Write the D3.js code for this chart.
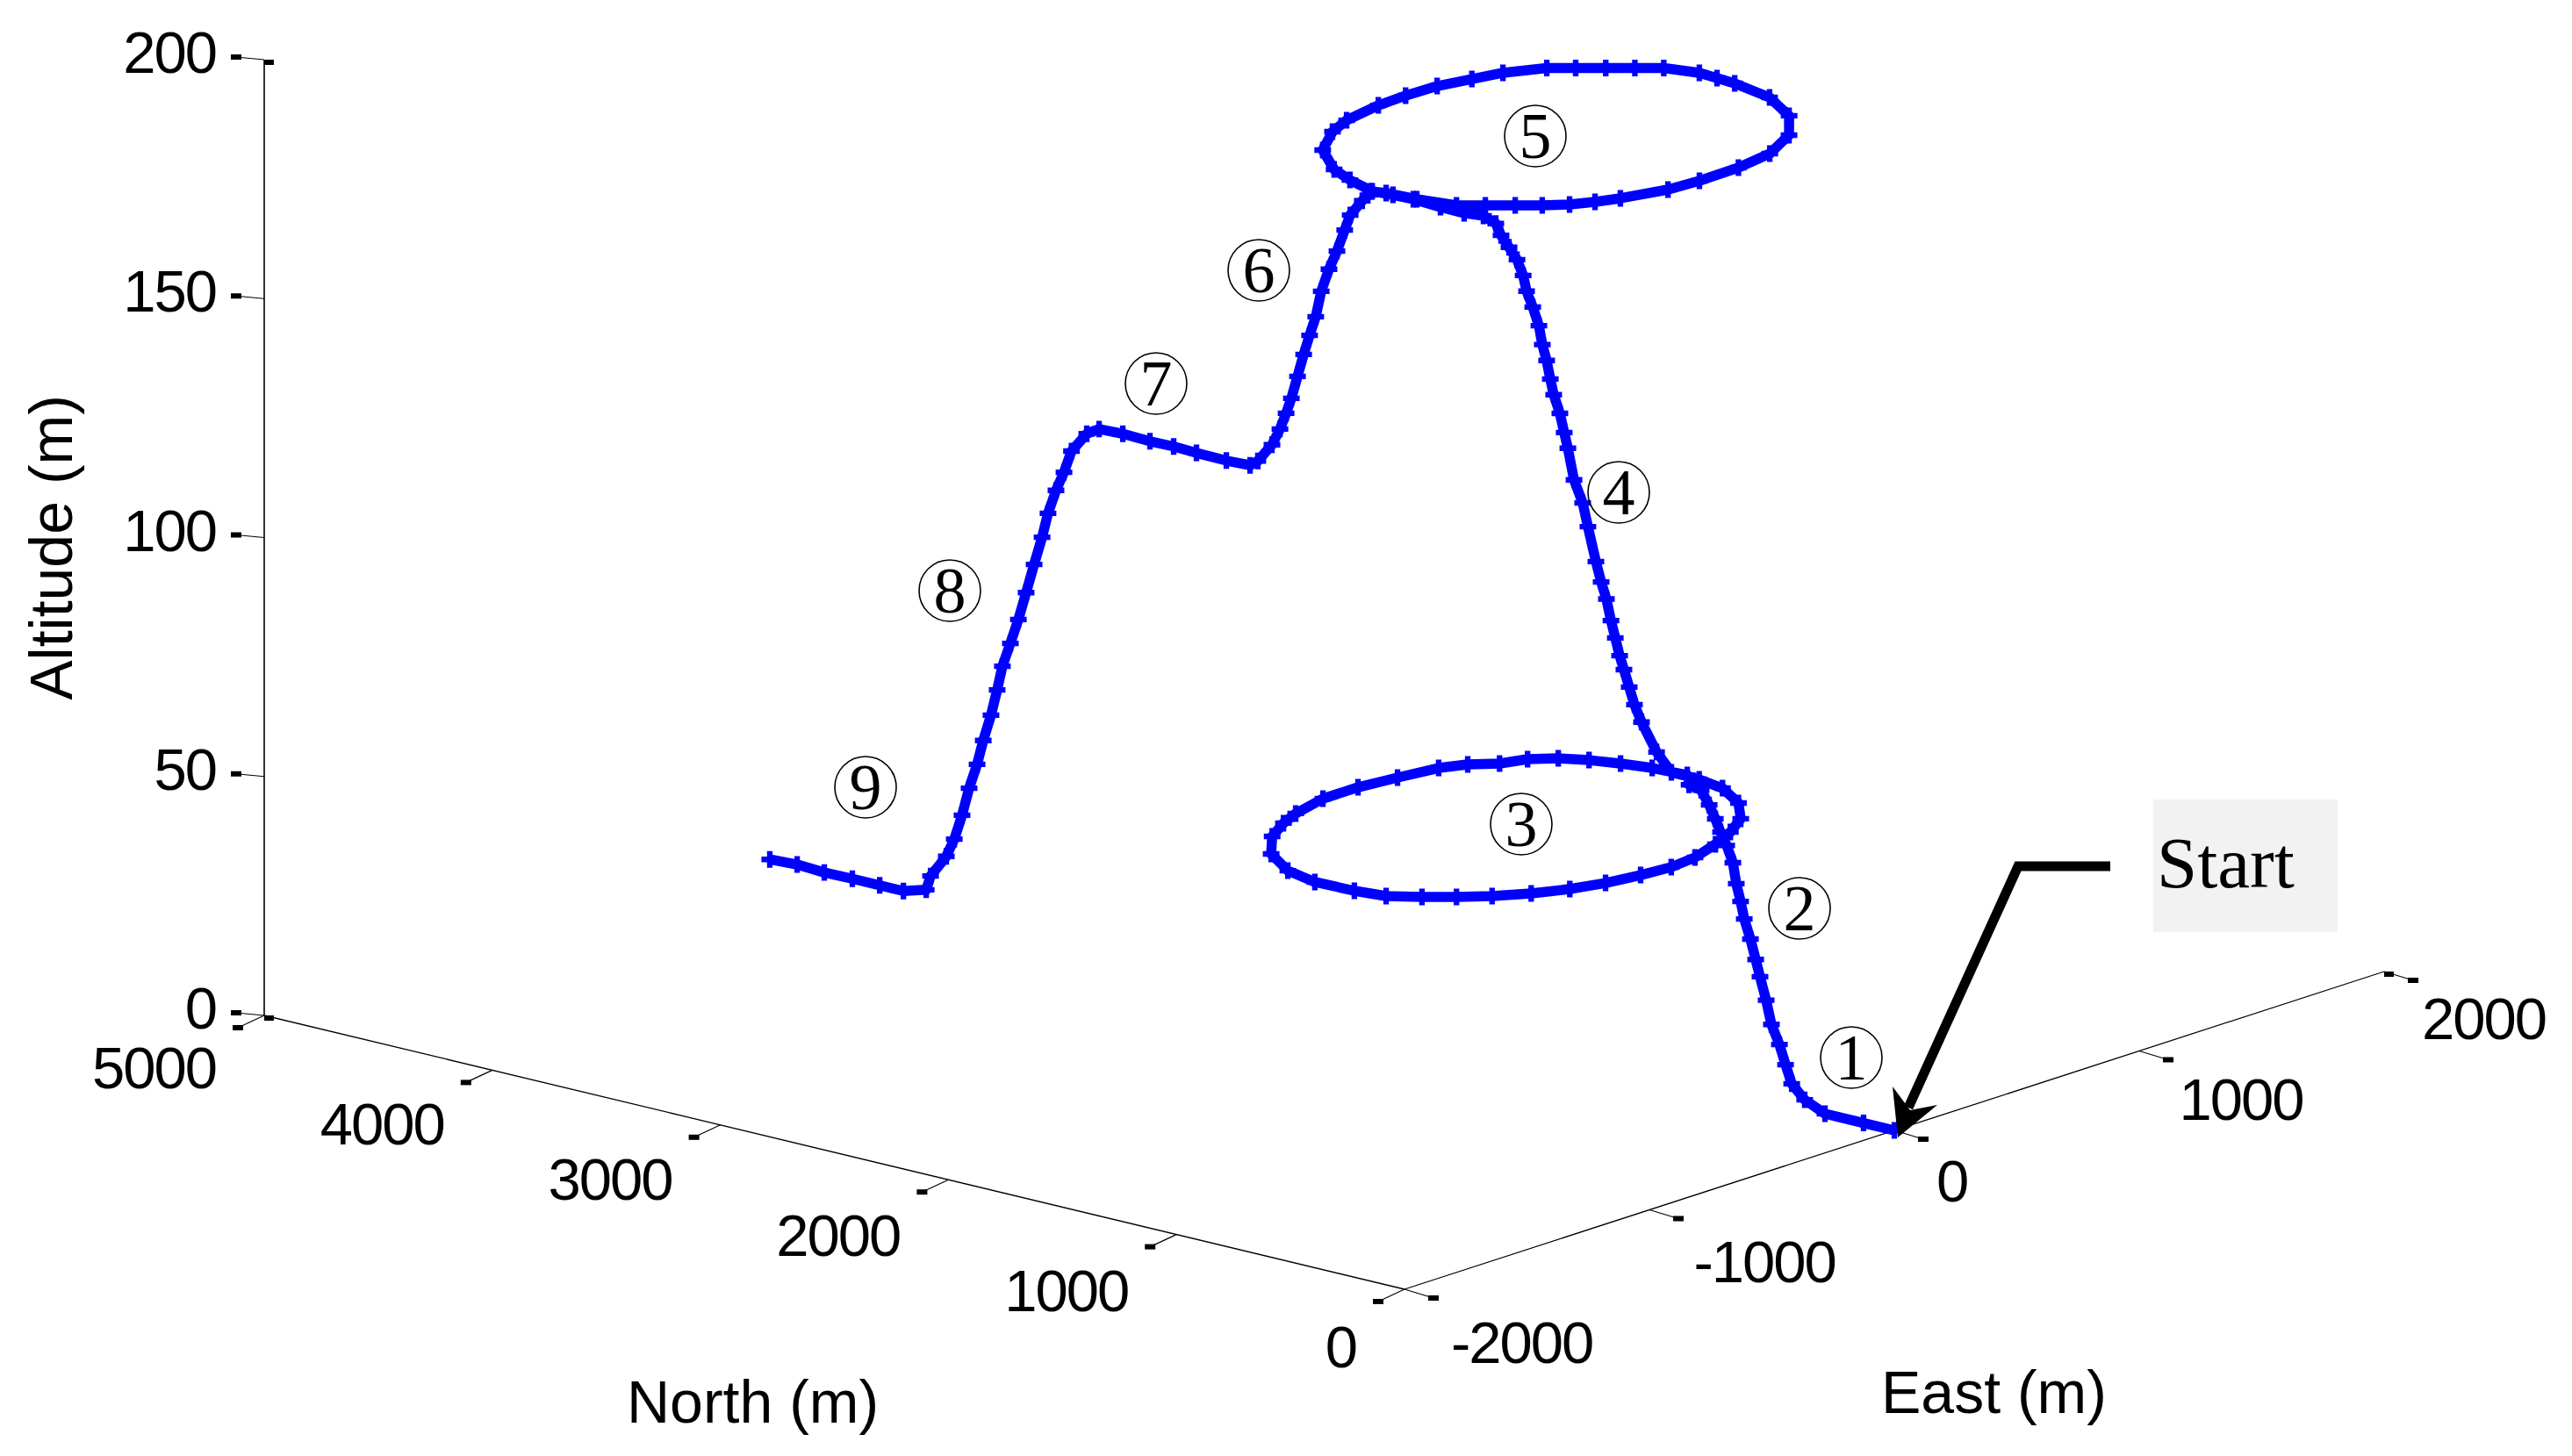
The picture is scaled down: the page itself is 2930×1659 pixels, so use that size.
<!DOCTYPE html>
<html>
<head>
<meta charset="utf-8">
<title>Flight path</title>
<script src="https://cdn.jsdelivr.net/npm/d3@7"></script>
<style>
  html, body { margin: 0; padding: 0; background: #fff; }
  svg { display: block; }
</style>
</head>
<body>
<div id="chart"></div>
<script>
// tick values for the three axes
const eastTicks = [-2000, -1000, 0, 1000, 2000];
const northTicks = [0, 1000, 2000, 3000, 4000, 5000];
const altitudeTicks = [0, 50, 100, 150, 200];

const axisLabels = ['East (m)', 'North (m)', 'Altitude (m)'];
const stageLabels = ['1', '2', '3', '4', '5', '6', '7', '8', '9'];
const startLabel = 'Start';

// flight track (metres)
const east = [
  0, 0, 0, 0, 0, 0, 0, 0, 0, 0, 0, 0, 0, 0, 0, 0, 0, 0, 0, 0, 0, 0,
  68, 58, 35, 5, -35, -95, -175, -237, -313, -454, -593, -736, -891, -982, -1097, -1226, -1318, -1353, -1348, -1331, -1275, -1215, -1147, -1060,
  -961, -855, -737, -626, -515, -384, -270, -156, -46, 34, 57, 60,
  60, 60, 60, 60, 60, 60, 60, 60, 60, 60, 60, 60, 60, 60, 60, 60, 60, 60, 60, 60, 60, 60, 60, 60, 60, 60, 60, 60, 60, 60,
  11, 14, 24, 20, 10, 53, 102, 222, 372, 479, 642, 760, 884, 995, 1094, 1205, 1255, 1307, 1358, 1408, 1435, 1428, 1420, 1379, 1280, 1140,
  973, 817, 654, 536, 390, 320, 257, 203, 156, 104, 54, 30, 21, 7,
  0, 0, 0, 0, 0, 0, 0, 0, 0, 0, 0, 0, 0, 0, 0, 0, 0, 0, 0, 0, 0, 0, 0,
  0, 0, 0, 0, 0, 0, 0, 0, 0, 0, 0, 0, 0, 0, 0, 0, 0, 0, 0, 0, 0, 0, 0, 0, 0, 0
];
const north = [
  0, 135, 304, 393, 450, 477, 504, 539, 562, 589, 608, 631, 658, 674, 693, 708, 735, 762, 785, 812, 847, 900,
  981, 1124, 1238, 1344, 1436, 1506, 1543, 1616, 1662, 1691, 1715, 1715, 1668, 1624, 1550, 1416, 1244, 1088, 920, 799, 702, 615, 532, 454,
  391, 348, 321, 306, 321, 372, 429, 506, 634, 790, 917, 1042,
  1107, 1173, 1204, 1227, 1250, 1269, 1288, 1307, 1327, 1350, 1373, 1408, 1431, 1469, 1496, 1512, 1531, 1558, 1573, 1589, 1608, 1623, 1650, 1677, 1692, 1719, 1754, 1789, 1812, 1866,
  1898, 2005, 2135, 2220, 2300, 2444, 2566, 2745, 2863, 2916, 2952, 2959, 2954, 2921, 2891, 2818, 2745, 2669, 2596, 2523, 2396, 2311, 2225, 2028, 1836, 1686,
  1591, 1561, 1557, 1568, 1620, 1656, 1700, 1762, 1830, 1905, 1978, 2126, 2251, 2304,
  2333, 2386, 2410, 2444, 2479, 2513, 2537, 2564, 2590, 2617, 2644, 2667, 2694, 2729, 2791, 2825, 2929, 3060, 3160, 3264, 3383, 3487, 3541,
  3608, 3641, 3676, 3711, 3737, 3772, 3807, 3841, 3876, 3911, 3934, 3961, 3995, 4022, 4057, 4088, 4122, 4157, 4226, 4245, 4345, 4449, 4569, 4692, 4811, 4931
];
const altitude = [
  0, 0, 0, 1.9, 4.6, 8.3, 12.2, 16, 20.8, 25.4, 28.8, 32.8, 36.7, 40.2, 43.7, 47.9, 51.2, 53.7, 56.2, 58.8, 61.5, 62,
  62, 62, 62, 62, 62, 62, 62, 62, 62, 62, 62, 62, 62, 62, 62, 62, 62, 62, 62, 62, 62, 62, 62, 62,
  62, 62, 62, 62, 62, 62, 62, 62, 62, 62, 62, 62,
  65.5, 71, 74.3, 77.7, 81.1, 83.8, 87.3, 90.7, 95, 98.3, 102.3, 109.2, 113.9, 118.3, 124.6, 127.7, 131.5, 135.1, 138.2, 141.9, 145, 148.8, 152.4, 155.4, 158.5, 161.5, 163.7, 165.8, 168, 169,
  170, 170, 170, 170, 170, 170, 170, 170, 170, 170, 170, 170, 170, 170, 170, 170, 170, 170, 170, 170, 170, 170, 170, 170, 170, 170,
  170, 170, 170, 170, 170, 170, 170, 170, 170, 170, 170, 170, 170, 170,
  167.8, 164.2, 160.8, 156, 151.8, 146.8, 141.2, 137, 132.7, 127.8, 122.9, 119.5, 115.9, 112.2, 108.1, 106.8, 106.6, 106.7, 106.9, 106.8, 107, 106.8, 105.2,
  100.8, 96, 91.8, 86.6, 81.3, 75.2, 68.9, 62.9, 57.5, 52.3, 47.1, 41.5, 35.8, 30.5, 25.1, 19.1, 13.7, 9.7, 4.8, 1.7, 0.3, 0.3, 0.3, 0.2, 0.5, 0.2
];

// the 3d box is a fixed oblique view, origin is the front corner (east -2000, north 0)
const width = 2930;
const height = 1659;
const origin = { x: 1600, y: 1469 };

const eastX = d3.scaleLinear().domain([-2000, 2000]).range([0, 1116]);
const eastY = d3.scaleLinear().domain([-2000, 2000]).range([0, -362]);
const northX = d3.scaleLinear().domain([0, 5000]).range([0, -1299]);
const northY = d3.scaleLinear().domain([0, 5000]).range([0, -312]);
const altY = d3.scaleLinear().domain([0, 200]).range([0, -1089]);

const project = (e, n, a) => [
  origin.x + eastX(e) + northX(n),
  origin.y + eastY(e) + northY(n) + altY(a)
];

const svg = d3.select('#chart').append('svg')
  .attr('width', width)
  .attr('height', height)
  .attr('viewBox', [0, 0, width, height]);

const numberFont = '"Liberation Sans", Arial, sans-serif';
const serifFont = '"Liberation Serif", "Times New Roman", serif';
const fontSize = 67;

const line = d3.line();
const axisGroup = svg.append('g').attr('fill', 'none').attr('stroke', '#000').attr('stroke-width', 1.3);

// axis lines
axisGroup.append('path').attr('d', line([project(-2000, 5000, 0), project(-2000, 5000, 200)])).attr('stroke-width', 1.6);
axisGroup.append('path').attr('d', line([project(-2000, 0, 0), project(2000, 0, 0)]));
axisGroup.append('path').attr('d', line([project(-2000, 0, 0), project(-2000, 5000, 0)]));

// a tick is a thin line that ends in a small black block
const drawTicks = (values, toPoint, dx, dy) => {
  const g = svg.append('g');
  g.selectAll('line').data(values).join('line')
    .attr('x1', d => toPoint(d)[0])
    .attr('y1', d => toPoint(d)[1])
    .attr('x2', d => toPoint(d)[0] + dx)
    .attr('y2', d => toPoint(d)[1] + dy)
    .attr('stroke', '#000')
    .attr('stroke-width', 1.2);
  g.selectAll('rect').data(values).join('rect')
    .attr('x', d => toPoint(d)[0] + dx - 6)
    .attr('y', d => toPoint(d)[1] + dy - 3)
    .attr('width', 12)
    .attr('height', 6)
    .attr('fill', '#000');
};

drawTicks(altitudeTicks, d => project(-2000, 5000, d), -32, -3);
drawTicks(northTicks, d => project(-2000, d, 0), -30, 14);
drawTicks(eastTicks, d => project(d, 0, 0), 33, 10);

// blocks at the far ends of the axes
const endBlocks = [project(-2000, 5000, 0), project(-2000, 5000, 200), project(2000, 0, 0)];
svg.append('g').selectAll('rect').data(endBlocks).join('rect')
  .attr('x', d => d[0])
  .attr('y', d => d[1])
  .attr('width', 11)
  .attr('height', 6)
  .attr('fill', '#000');

// tick labels, digits are a bit tighter than plain Liberation Sans
const tickText = svg.append('g')
  .attr('font-family', numberFont)
  .attr('font-size', fontSize)
  .attr('letter-spacing', -2)
  .attr('fill', '#000');

tickText.append('g').selectAll('text').data(altitudeTicks).join('text')
  .attr('text-anchor', 'end')
  .attr('x', d => project(-2000, 5000, d)[0] - 55)
  .attr('y', d => project(-2000, 5000, d)[1] + 15)
  .text(d => d);

const northLabelDy = d3.scaleLinear().domain([0, 5000]).range([89, 83]);
tickText.append('g').selectAll('text').data(northTicks).join('text')
  .attr('text-anchor', 'end')
  .attr('x', d => project(-2000, d, 0)[0] - 55)
  .attr('y', d => project(-2000, d, 0)[1] + northLabelDy(d))
  .text(d => d);

const eastLabelDx = d3.scaleLinear().domain([-2000, 2000]).range([53, 43]);
const eastLabelDy = d3.scaleLinear().domain([-2000, 2000]).range([84, 77]);
tickText.append('g').selectAll('text').data(eastTicks).join('text')
  .attr('x', d => project(d, 0, 0)[0] + eastLabelDx(d))
  .attr('y', d => project(d, 0, 0)[1] + eastLabelDy(d))
  .text(d => d);

// axis titles
const titleText = svg.append('g')
  .attr('font-family', numberFont)
  .attr('font-size', 68)
  .attr('fill', '#000');
titleText.append('text').attr('x', 2143).attr('y', 1610).text(axisLabels[0]);
titleText.append('text').attr('x', 714).attr('y', 1621).text(axisLabels[1]);
titleText.append('text')
  .attr('text-anchor', 'middle')
  .attr('transform', 'translate(82,624) rotate(-90)')
  .text(axisLabels[2]);

// flight track
const track = east.map((e, i) => project(e, north[i], altitude[i]));

svg.append('path')
  .attr('d', line(track))
  .attr('fill', 'none')
  .attr('stroke', '#0000ff')
  .attr('stroke-width', 11.5)
  .attr('stroke-linejoin', 'round');

svg.append('g').selectAll('path').data(track).join('path')
  .attr('d', d3.symbol(d3.symbolCross, 200))
  .attr('transform', d => `translate(${d[0]},${d[1]})`)
  .attr('fill', '#0000ff');

// circled stage numbers
const stagePositions = [
  [2109, 1205], [2050, 1035], [1733, 939], [1844, 561], [1749, 155],
  [1434, 308], [1317, 437], [1082, 673], [986, 897]
];
const stages = svg.append('g').selectAll('g').data(stageLabels).join('g')
  .attr('transform', (d, i) => `translate(${stagePositions[i][0]},${stagePositions[i][1]})`);
stages.append('circle')
  .attr('r', 35)
  .attr('fill', 'none')
  .attr('stroke', '#000')
  .attr('stroke-width', 1.6);
stages.append('text')
  .attr('text-anchor', 'middle')
  .attr('y', 25)
  .attr('font-family', serifFont)
  .attr('font-size', 74)
  .attr('fill', '#000')
  .text(d => d);

// start annotation
svg.append('rect')
  .attr('x', 2453).attr('y', 911)
  .attr('width', 210).attr('height', 151)
  .attr('fill', '#f2f2f2');
svg.append('text')
  .attr('x', 2457).attr('y', 1011)
  .attr('font-family', serifFont)
  .attr('font-size', 83)
  .attr('fill', '#000')
  .text(startLabel);

svg.append('path')
  .attr('d', line([[2404, 987], [2299, 987], [2174, 1262]]))
  .attr('fill', 'none')
  .attr('stroke', '#000')
  .attr('stroke-width', 11)
  .attr('stroke-linejoin', 'miter');
svg.append('path')
  .attr('d', line([[2162, 1296], [2156, 1238], [2176, 1265], [2207, 1259]]) + 'Z')
  .attr('fill', '#000');
</script>
</body>
</html>
